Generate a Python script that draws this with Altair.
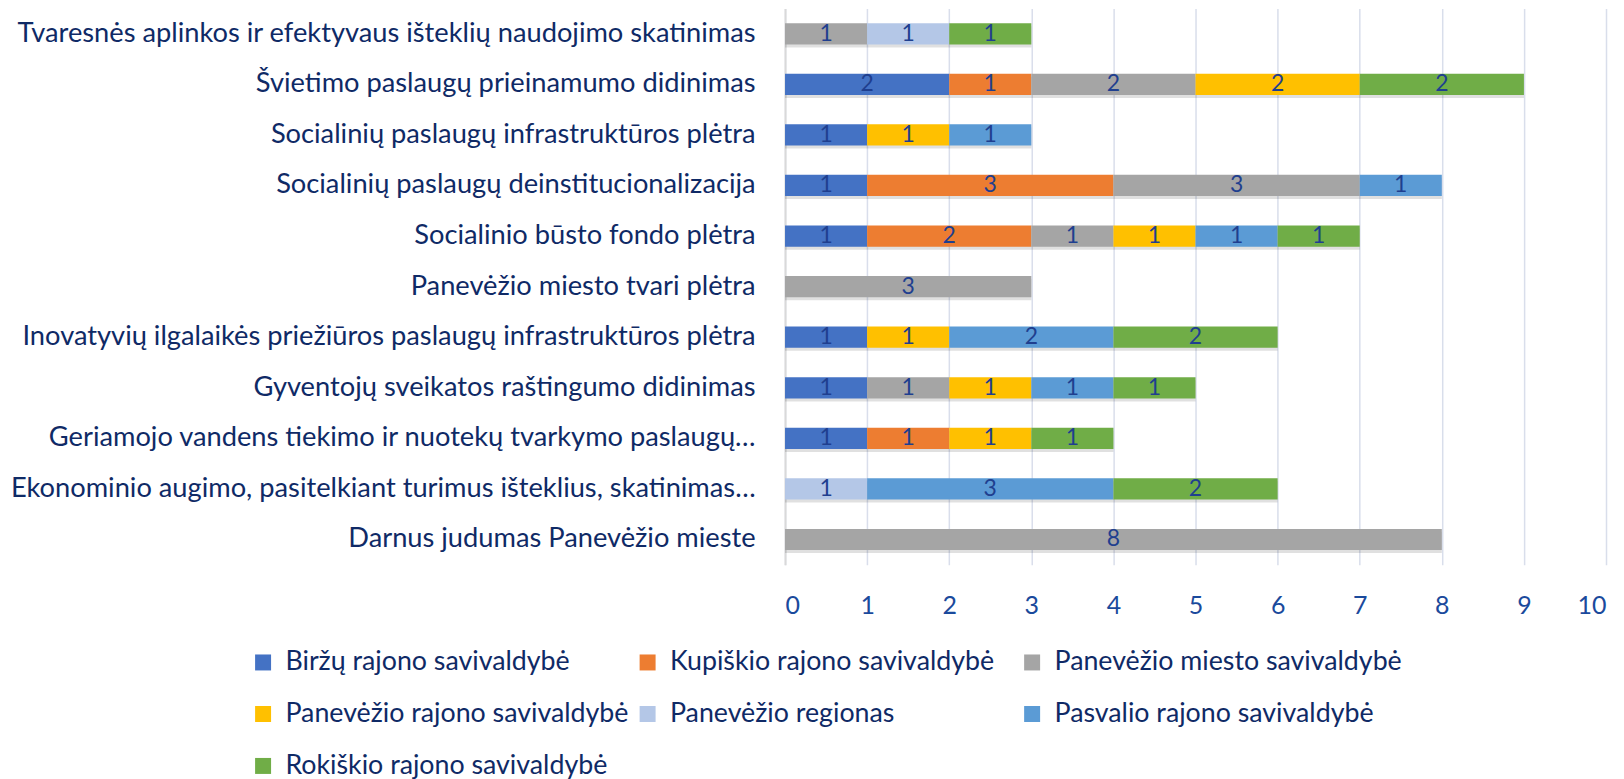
import altair as alt
import pandas as pd

categories = [
    "Tvaresnės aplinkos ir efektyvaus išteklių naudojimo skatinimas",
    "Švietimo paslaugų prieinamumo didinimas",
    "Socialinių paslaugų infrastruktūros plėtra",
    "Socialinių paslaugų deinstitucionalizacija",
    "Socialinio būsto fondo plėtra",
    "Panevėžio miesto tvari plėtra",
    "Inovatyvių ilgalaikės priežiūros paslaugų infrastruktūros plėtra",
    "Gyventojų sveikatos raštingumo didinimas",
    "Geriamojo vandens tiekimo ir nuotekų tvarkymo paslaugų…",
    "Ekonominio augimo, pasitelkiant turimus išteklius, skatinimas…",
    "Darnus judumas Panevėžio mieste",
]

series = [
    "Biržų rajono savivaldybė",
    "Kupiškio rajono savivaldybė",
    "Panevėžio miesto savivaldybė",
    "Panevėžio rajono savivaldybė",
    "Panevėžio regionas",
    "Pasvalio rajono savivaldybė",
    "Rokiškio rajono savivaldybė",
]

colors = ["#4472C4", "#ED7D31", "#A5A5A5", "#FFC000", "#B4C7E7", "#5B9BD5", "#70AD47"]

# values per series, aligned with categories (0 = no bar)
birzu    = [0, 2, 1, 1, 1, 0, 1, 1, 1, 0, 0]
kupiskio = [0, 1, 0, 3, 2, 0, 0, 0, 1, 0, 0]
miesto   = [1, 2, 0, 3, 1, 3, 0, 1, 0, 0, 8]
rajono   = [0, 2, 1, 0, 1, 0, 1, 1, 1, 0, 0]
regionas = [1, 0, 0, 0, 0, 0, 0, 0, 0, 1, 0]
pasvalio = [0, 0, 1, 1, 1, 0, 2, 1, 0, 3, 0]
rokiskio = [1, 2, 0, 0, 1, 0, 2, 1, 1, 2, 0]

values = [birzu, kupiskio, miesto, rajono, regionas, pasvalio, rokiskio]

rows = []
for si, (s, vals) in enumerate(zip(series, values)):
    for c, v in zip(categories, vals):
        if v > 0:
            rows.append({"kategorija": c, "savivaldybe": s, "reiksme": v, "eile": si})
df = pd.DataFrame(rows)

FONT = "Lato"
NAVY = "#0F2A66"

base = alt.Chart(df).transform_stack(
    stack="reiksme",
    groupby=["kategorija"],
    sort=[alt.SortField("eile", order="ascending")],
    as_=["x0", "x1"],
).transform_calculate(mid="(datum.x0 + datum.x1) / 2")

y_enc = alt.Y(
    "kategorija:N",
    sort=categories,
    title=None,
    scale=alt.Scale(paddingInner=0.58, paddingOuter=0.29),
    axis=alt.Axis(
        labelFont=FONT,
        labelFontSize=27.3,
        labelColor=NAVY,
        labelLimit=900,
        labelPadding=30,
        ticks=False,
        domain=True,
        domainColor="#D9D9D9",
        domainWidth=2,
        grid=False,
    ),
)

x_scale = alt.Scale(domain=[0, 10], nice=False, zero=True)

shadow = base.mark_bar(color="#000000", opacity=0.12).encode(
    y=y_enc,
    x=alt.X("x0:Q", scale=x_scale),
    x2="x1:Q",
    yOffset=alt.value(3),
)

bars = base.mark_bar(cornerRadius=0).encode(
    y=y_enc,
    x=alt.X(
        "x0:Q",
        scale=x_scale,
        title=None,
        axis=alt.Axis(
            values=list(range(0, 11)),
            format="d",
            labelFont=FONT,
            labelFontSize=25,
            labelColor="#1A4A9C",
            labelPadding=29,
            ticks=False,
            domain=False,
            grid=True,
            gridColor="#D9DEEB",
            gridWidth=1.5,
        ),
    ),
    x2="x1:Q",
    color=alt.Color(
        "savivaldybe:N",
        scale=alt.Scale(domain=series, range=colors),
        title=None,
        legend=alt.Legend(
            orient="none",
            legendX=-536,
            legendY=641,
            direction="horizontal",
            columns=3,
            gridAlign="all",
            symbolType="square",
            symbolSize=256,
            symbolStrokeWidth=0,
            labelFont=FONT,
            labelFontSize=26.8,
            labelColor=NAVY,
            labelLimit=600,
            labelOffset=9,
            columnPadding=1,
            rowPadding=24,
        ),
    ),
    order=alt.Order("eile:Q"),
)

labels = base.mark_text(font=FONT, fontSize=23, color="#1F3F8F", baseline="middle").encode(
    y=y_enc,
    x=alt.X("mid:Q", scale=x_scale),
    text="reiksme:Q",
)

chart = (
    alt.layer(shadow, bars, labels)
    .properties(
        width=822,
        height=557,
        padding={"left": 778, "top": 0, "right": 10, "bottom": 214},
        autosize=alt.AutoSizeParams(type="none"),
    )
    .configure_view(stroke=None)
)

chart.save("out.html", embed_options={"renderer": "svg", "actions": False})
